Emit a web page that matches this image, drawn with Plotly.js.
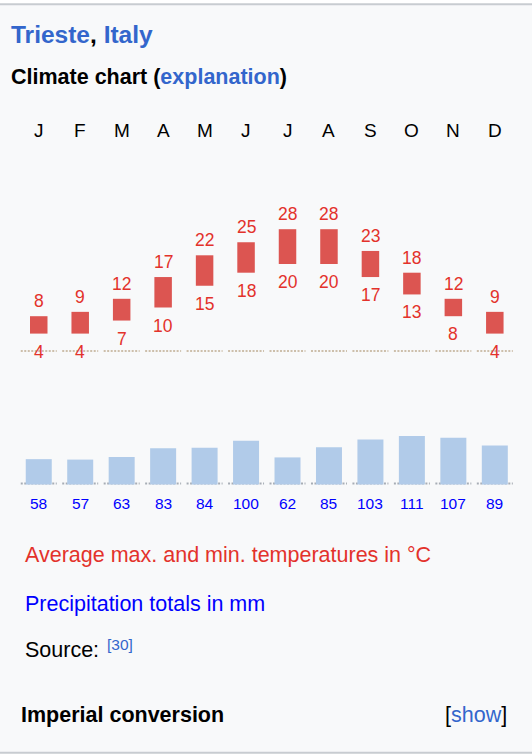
<!DOCTYPE html>
<html>
<head>
<meta charset="utf-8">
<script src="https://cdn.plot.ly/plotly-3.0.1.min.js"></script>
<style>
html,body{margin:0;padding:0;background:#fff;}
#chart{width:532px;height:756px;}
</style>
</head>
<body>
<div id="chart"></div>
<script>
// ---- data ----
const months = ['J','F','M','A','M','J','J','A','S','O','N','D'];
const tMax = [8, 9, 12, 17, 22, 25, 28, 28, 23, 18, 12, 9];
const tMin = [4, 4, 7, 10, 15, 18, 20, 20, 17, 13, 8, 4];
const precip = [58, 57, 63, 83, 84, 100, 62, 85, 103, 111, 107, 89];

// ---- geometry ----
const W = 532, H = 756;
const FONT = '"Liberation Sans", Arial, Helvetica, sans-serif';
const px = x => x / W;
const py = y => 1 - y / H;
const idx = months.map((m, i) => i);

const RED_BAR = '#dc5551';
const RED_TXT = '#e3322b';
const BLUE_BAR = '#b1cbe9';
const BLUE_TXT = '#0000ff';
const LINK = '#3366cc';

// temperature axis: 0°C at pixel 351, 4.35 px per °C
const tZero = 351, tScale = 4.35;
const yRange = [-(H - tZero) / tScale, tZero / tScale];
// precipitation axis: 0 mm at pixel 484.5, 0.437 px per mm
const pZero = 484.5, pScale = 0.437;
const y2Range = [-(H - pZero) / pScale, pZero / pScale];
// x axis: month 0 centre at 38.75 px, spacing 41.46 px
const sp = 41.46, c0 = 38.75;
const xRange = [-c0 / sp, (W - c0) / sp];

const traces = [
  {
    type: 'bar', x: idx, y: tMax.map((v, i) => v - tMin[i]), base: tMin,
    width: 17.5 / sp, marker: {color: RED_BAR, line: {width: 0}},
    xaxis: 'x', yaxis: 'y', hoverinfo: 'skip'
  },
  {
    type: 'bar', x: idx, y: precip,
    width: 26 / sp, marker: {color: BLUE_BAR, line: {width: 0}},
    xaxis: 'x', yaxis: 'y2', hoverinfo: 'skip'
  }
];

const shapes = [
  // panel background and borders
  {type: 'rect', xref: 'paper', yref: 'paper', x0: 0, x1: 1, y0: py(753), y1: py(4),
   fillcolor: '#f8f9fa', line: {width: 0}, layer: 'below'},
  {type: 'line', xref: 'paper', yref: 'paper', x0: 0, x1: 1, y0: py(4.3), y1: py(4.3),
   line: {color: '#c8ccd1', width: 2}, layer: 'below'},
  {type: 'line', xref: 'paper', yref: 'paper', x0: 0, x1: 1, y0: py(752.8), y1: py(752.8),
   line: {color: '#c8ccd1', width: 2}, layer: 'below'}
];
idx.forEach(i => {
  shapes.push({type: 'line', xref: 'x', yref: 'y', x0: i - 0.434, x1: i + 0.434, y0: 0, y1: 0,
    line: {color: '#cdbfab', width: 2, dash: '2px,1.5px'}, layer: 'below'});
  shapes.push({type: 'line', xref: 'x', yref: 'y2', x0: i - 0.434, x1: i + 0.434, y0: 2.5, y1: 2.5,
    line: {color: '#a7adb5', width: 2, dash: '2px,1.5px'}, layer: 'below'});
});

const ann = [];
function txt(text, x, y, size, color, anchor) {
  ann.push({text: text, xref: 'paper', yref: 'paper', x: px(x), y: py(y),
    xanchor: anchor || 'left', yanchor: 'middle', showarrow: false, borderpad: 0,
    font: {family: FONT, size: size, color: color}});
}
txt('<b><span style="color:' + LINK + '">Trieste</span>, <span style="color:' + LINK + '">Italy</span></b>', 10, 35, 24.5, '#000');
txt('<b>Climate chart (<span style="color:' + LINK + '">explanation</span>)</b>', 10, 77, 21.5, '#000');
txt('Average max. and min. temperatures in °C', 24, 555, 21.5, RED_TXT);
txt('Precipitation totals in mm', 24, 603.5, 21.5, BLUE_TXT);
txt('Source:', 24, 650, 21.5, '#000');
txt('[30]', 105.5, 644, 15.5, LINK);
txt('<b>Imperial conversion</b>', 20, 715, 21.5, '#000');
txt('[<span style="color:' + LINK + '">show</span>]', 508, 715, 21.5, '#000', 'right');

// month letters
months.forEach((m, i) => {
  ann.push({text: m, xref: 'x', yref: 'paper', x: i, y: py(130.5), xanchor: 'center', yanchor: 'middle',
    showarrow: false, borderpad: 0, font: {family: FONT, size: 19, color: '#000'}});
});
// temperature labels
idx.forEach(i => {
  ann.push({text: String(tMax[i]), xref: 'x', yref: 'y', x: i, y: tMax[i], yshift: 15,
    xanchor: 'center', yanchor: 'middle', showarrow: false, borderpad: 0,
    font: {family: FONT, size: 17.5, color: RED_TXT}});
  ann.push({text: String(tMin[i]), xref: 'x', yref: 'y', x: i, y: tMin[i], yshift: -18,
    xanchor: 'center', yanchor: 'middle', showarrow: false, borderpad: 0,
    font: {family: FONT, size: 17.5, color: RED_TXT}});
});
// precipitation labels
idx.forEach(i => {
  ann.push({text: String(precip[i]), xref: 'x', yref: 'y2', x: i, y: 0, yshift: -19,
    xanchor: 'center', yanchor: 'middle', showarrow: false, borderpad: 0,
    font: {family: FONT, size: 15.5, color: BLUE_TXT}});
});

const layout = {
  width: W, height: H,
  margin: {l: 0, r: 0, t: 0, b: 0, pad: 0},
  paper_bgcolor: '#ffffff', plot_bgcolor: 'rgba(0,0,0,0)',
  showlegend: false, barmode: 'overlay', hovermode: false,
  xaxis: {range: xRange, visible: false, fixedrange: true},
  yaxis: {range: yRange, visible: false, fixedrange: true},
  yaxis2: {range: y2Range, visible: false, overlaying: 'y', fixedrange: true},
  shapes: shapes, annotations: ann
};

Plotly.newPlot('chart', traces, layout, {staticPlot: true, displayModeBar: false});
</script>
</body>
</html>
